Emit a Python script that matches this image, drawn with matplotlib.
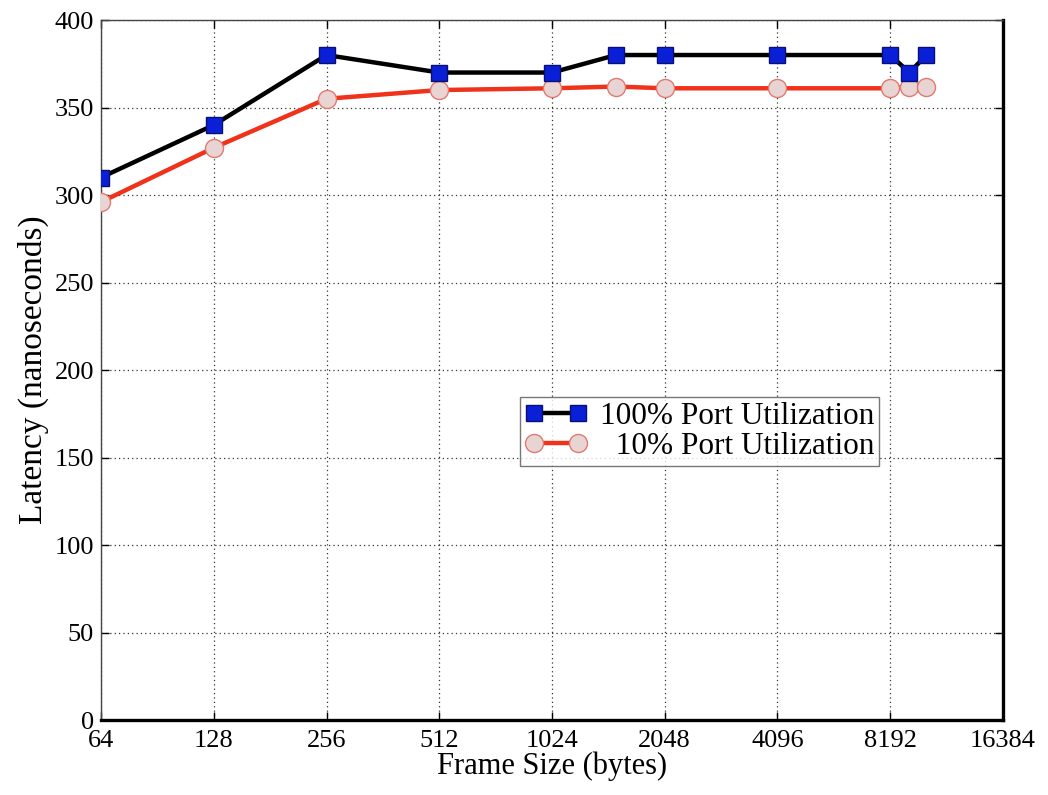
import matplotlib
matplotlib.use("Agg")
import matplotlib.pyplot as plt
from matplotlib.ticker import FixedLocator, NullLocator

# ── data ─────────────────────────────────────────────────────────────────────
frame_sizes = [64, 128, 256, 512, 1024, 1518, 2048, 4096, 8192, 9216, 10240]
lat_100 = [310, 340, 380, 370, 370, 380, 380, 380, 380, 370, 380]
lat_10 = [296, 327, 355, 360, 361, 362, 361, 361, 361, 362, 362]
xticks = [64, 128, 256, 512, 1024, 2048, 4096, 8192, 16384]
yticks = [0, 50, 100, 150, 200, 250, 300, 350, 400]

FONT = ["Liberation Serif", "DejaVu Serif"]

fig = plt.figure(figsize=(10.48, 7.95), dpi=100)
fig.patch.set_facecolor("white")
ax = fig.add_axes([0.0964, 0.0943, 0.8606, 0.8805])

ax.plot(frame_sizes, lat_100, color="black", lw=3.2, marker="s", ms=11,
        mfc="#0a1fd8", mec="#0a1070", mew=1.0, zorder=4,
        label="100% Port Utilization")
ax.plot(frame_sizes, lat_10, color="#f0321a", lw=3.2, marker="o", ms=13,
        mfc="#e8d4d2", mec="#e07a70", mew=1.0, zorder=3,
        label="  10% Port Utilization")

ax.set_xscale("log", base=2)
ax.set_xlim(64, 16384)
ax.set_ylim(0, 400)
ax.xaxis.set_major_locator(FixedLocator(xticks))
ax.xaxis.set_minor_locator(NullLocator())
ax.set_xticklabels([str(v) for v in xticks])
ax.set_yticks(yticks)
ax.set_yticklabels([str(v) for v in yticks])

ax.grid(True, color="black", linestyle=(0, (1, 2.5)), lw=0.9, alpha=0.8)
ax.tick_params(direction="in", length=6, width=1, top=True, right=True,
               labelsize=19)
ax.tick_params(axis="x", pad=7)
ax.tick_params(axis="y", pad=5)
for lab in ax.get_xticklabels() + ax.get_yticklabels():
    lab.set_family(FONT)
for sp in ax.spines.values():
    sp.set_linewidth(1.0)
    sp.set_color("#444444")
ax.spines["bottom"].set_linewidth(2.4)
ax.spines["right"].set_linewidth(2.4)
ax.spines["bottom"].set_color("black")
ax.spines["right"].set_color("black")

ax.set_xlabel("Frame Size (bytes)", fontsize=22, family=FONT, labelpad=0)
ax.set_ylabel("Latency (nanoseconds)", fontsize=24, family=FONT, labelpad=4)

leg = ax.legend(loc="upper left", bbox_to_anchor=(0.4645, 0.4614),
                prop={"family": FONT, "size": 22.5}, frameon=True, fancybox=False,
                edgecolor="#555555", numpoints=2, handlelength=2.0,
                handletextpad=0.4, borderpad=0.15, labelspacing=0.05,
                borderaxespad=0)
leg.get_frame().set_linewidth(1.0)

fig.savefig("out.png", dpi=100, facecolor="white")
